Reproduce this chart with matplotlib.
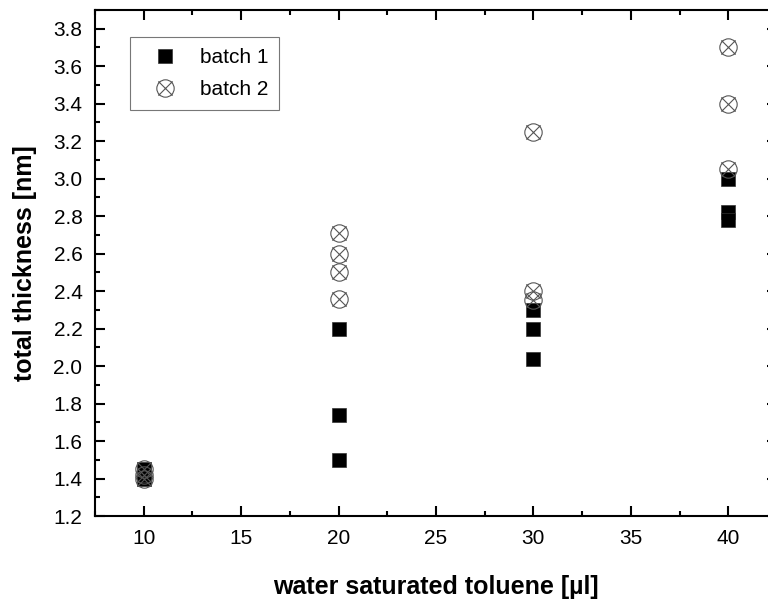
import matplotlib
matplotlib.use("Agg")
import matplotlib.pyplot as plt
from matplotlib.path import Path
from matplotlib.ticker import MultipleLocator

plt.rcParams['font.family'] = ['Liberation Sans', 'DejaVu Sans']

# batch 1: filled squares
b1_x = [10, 10, 10, 20, 20, 20, 30, 30, 30, 40, 40, 40]
b1_y = [1.40, 1.42, 1.45, 2.20, 1.74, 1.50, 2.30, 2.20, 2.04, 3.00, 2.82, 2.78]

# batch 2: crossed circles
b2_x = [10, 10, 10, 20, 20, 20, 20, 30, 30, 30, 40, 40, 40]
b2_y = [1.40, 1.42, 1.45, 2.71, 2.60, 2.50, 2.36, 3.25, 2.40, 2.35, 3.70, 3.40, 3.05]

# circle with an X through it
circ = Path.unit_circle()
d = 0.82
cross = Path([(-d, -d), (d, d), (-d, d), (d, -d)],
             [Path.MOVETO, Path.LINETO, Path.MOVETO, Path.LINETO])
crossed_circle = Path.make_compound_path(circ, cross)

fig = plt.figure(figsize=(7.68, 6.03), dpi=100)
# right spine sits just past the figure edge
ax = fig.add_axes([95/768, 87/603, 682/768, 506/603])

ax.plot(b1_x, b1_y, linestyle='none', marker='s', markersize=10,
        color='black', markeredgecolor='#333333', markeredgewidth=0.5, label='batch 1')
ax.plot(b2_x, b2_y, linestyle='none', marker=crossed_circle, markersize=12.5,
        markerfacecolor='none', markeredgecolor='#555555', markeredgewidth=0.8,
        label='batch 2')

ax.set_xlim(7.5, 42.5)
ax.set_ylim(1.2, 3.9)
ax.xaxis.set_major_locator(MultipleLocator(5))
ax.xaxis.set_minor_locator(MultipleLocator(2.5))
ax.yaxis.set_major_locator(MultipleLocator(0.2))
ax.yaxis.set_minor_locator(MultipleLocator(0.1))
ax.yaxis.set_major_formatter(plt.FuncFormatter(lambda v, p: f"{v:.1f}"))

ax.tick_params(which='both', direction='in', top=True, right=True, width=1.5)
ax.tick_params(which='major', length=7.2, labelsize=15, pad=9)
ax.tick_params(which='minor', length=3.6)
for s in ax.spines.values():
    s.set_linewidth(1.5)

ax.set_xlabel('water saturated toluene [µl]', fontsize=18, fontweight='bold', labelpad=20)
ax.set_ylabel('total thickness [nm]', fontsize=18, fontweight='bold', labelpad=12)

leg = ax.legend(loc='upper left', bbox_to_anchor=(0.0513, 0.9466), borderaxespad=0,
                fontsize=15, frameon=True, fancybox=False, edgecolor='#555555',
                handletextpad=0.52, borderpad=0.52, labelspacing=0.65, handlelength=2.3)
leg.get_frame().set_linewidth(0.8)

fig.savefig('out.png', dpi=100)
